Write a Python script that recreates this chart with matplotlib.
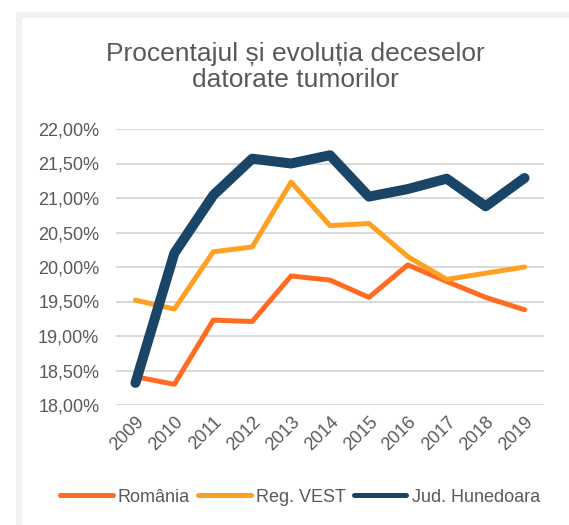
import matplotlib.pyplot as plt
from matplotlib.patches import Rectangle
from matplotlib.lines import Line2D
from matplotlib.ticker import FuncFormatter

plt.rcParams['font.family'] = ['Liberation Sans', 'DejaVu Sans']

years = ["2009", "2010", "2011", "2012", "2013", "2014", "2015", "2016", "2017", "2018", "2019"]
romania = [18.41, 18.30, 19.23, 19.21, 19.87, 19.81, 19.56, 20.03, 19.79, 19.56, 19.38]
reg_vest = [19.52, 19.39, 20.22, 20.29, 21.23, 20.60, 20.63, 20.15, 19.82, 19.91, 20.00]
hunedoara = [18.32, 20.20, 21.04, 21.57, 21.50, 21.62, 21.02, 21.13, 21.28, 20.88, 21.29]

names = ["România", "Reg. VEST", "Jud. Hunedoara"]
colors = ["#FF6B22", "#FFA023", "#1B4567"]
text_col = "#595959"

fig = plt.figure(figsize=(5.69, 5.25), dpi=100)
# light grey frame of the chart area (cropped on right and bottom)
fig.patches.append(Rectangle((19 / 569, -0.1), 1.2, 1 - 14.5 / 525 + 0.1, transform=fig.transFigure,
                             fill=False, edgecolor="#F2F2F2", linewidth=4.3, zorder=0))

ax = fig.add_axes([116 / 569, 1 - 405 / 525, (544 - 116) / 569, (405 - 129) / 525])
x = range(len(years))
kw = dict(solid_capstyle="round", solid_joinstyle="round")
ax.plot(x, romania, color=colors[0], lw=3.6, **kw)
ax.plot(x, reg_vest, color=colors[1], lw=3.6, **kw)
ax.plot(x, hunedoara, color=colors[2], lw=7.2, **kw)

ax.set_xlim(-0.5, len(years) - 0.5)
ax.set_ylim(18, 22)
ax.set_yticks([18 + 0.5 * i for i in range(9)])
ax.yaxis.set_major_formatter(FuncFormatter(lambda v, p: f"{v:.2f}%".replace(".", ",")))
ax.set_xticks(list(x))
ax.set_xticklabels(years, rotation=45, ha="right", va="top", rotation_mode="anchor")
ax.tick_params(length=0, labelsize=13, colors=text_col)
ax.tick_params(axis="x", pad=6)
ax.tick_params(axis="y", pad=12)
ax.grid(axis="y", color="#D9D9D9", lw=1.4)
ax.set_axisbelow(True)
for s in ax.spines.values():
    s.set_visible(False)

fig.text(295 / 569, 1 - 67 / 525, "Procentajul și evoluția deceselor\ndatorate tumorilor",
         ha="center", va="center", fontsize=19, color=text_col, linespacing=1.1)

handles = [Line2D([], [], color=c, lw=3.6, solid_capstyle="round") for c in colors]
fig.legend(handles, names, loc="center", bbox_to_anchor=(300 / 569, 1 - 497 / 525), ncol=3,
           frameon=False, fontsize=13, labelcolor=text_col, handlelength=2.9,
           handletextpad=0.3, columnspacing=0.45)

fig.savefig("out.png", dpi=100, facecolor="white")
